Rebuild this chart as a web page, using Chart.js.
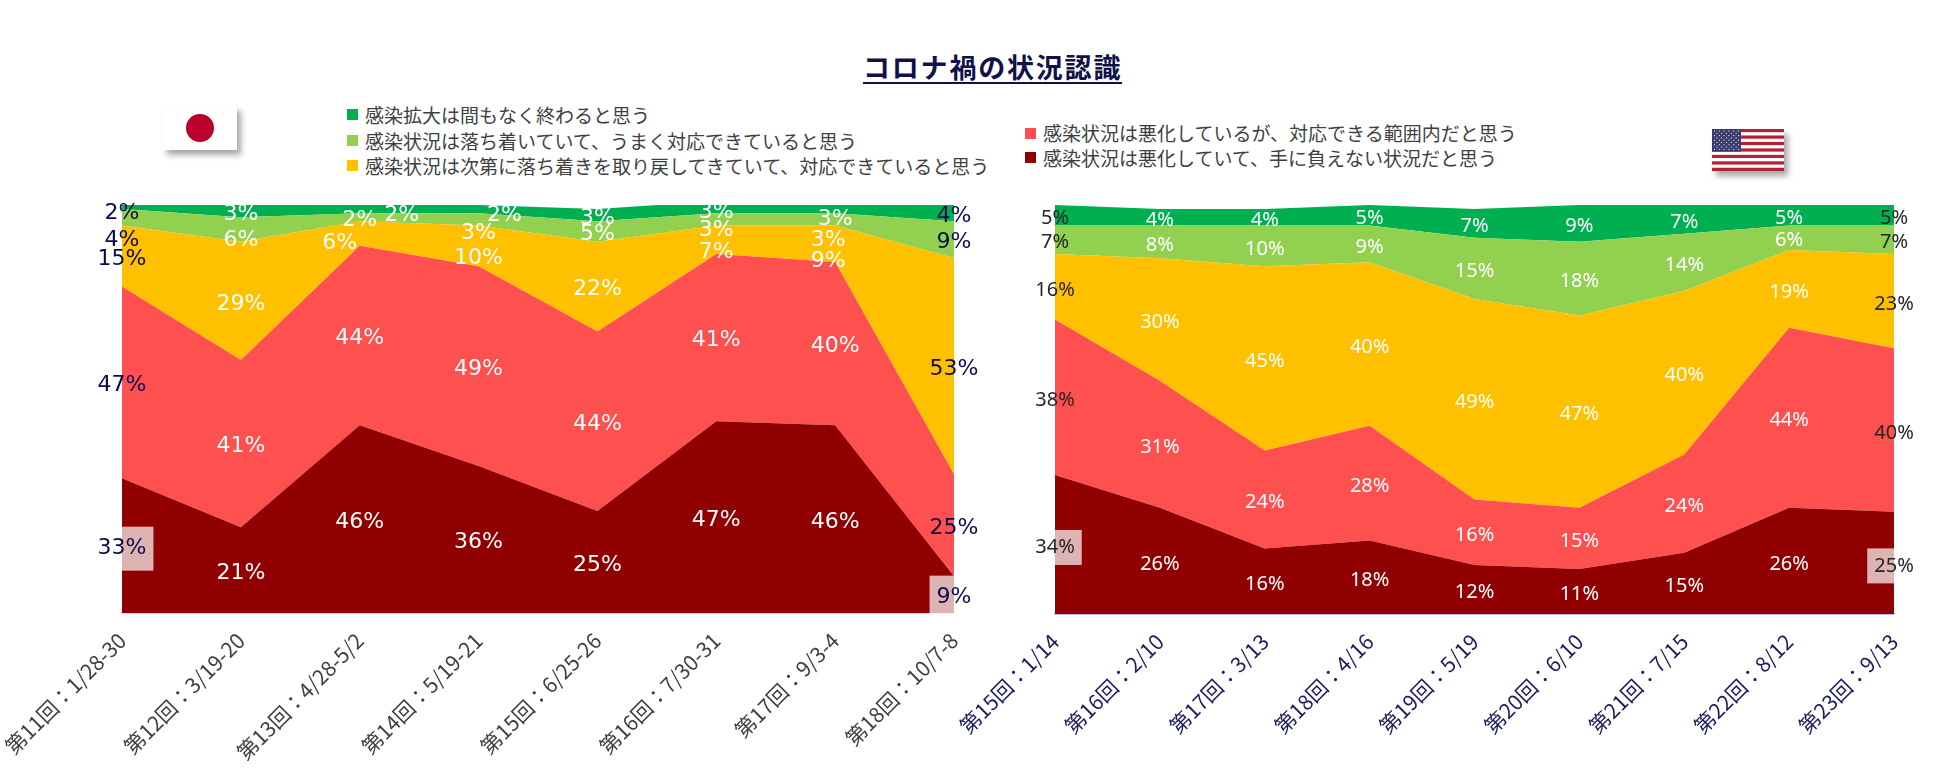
<!DOCTYPE html>
<html lang="ja">
<head>
<meta charset="utf-8">
<title>コロナ禍の状況認識</title>
<script src="https://cdn.jsdelivr.net/npm/chart.js@4.4.0/dist/chart.umd.min.js"></script>
<style>
  html, body { margin: 0; padding: 0; background: #fff; }
  body { width: 1938px; height: 784px; position: relative; overflow: hidden; font-family: "Noto Sans CJK JP", sans-serif; }
  canvas { position: absolute; }
  #title { position: absolute; left: 863px; top: 52px; height: 30px; line-height: 30px; font-size: 27px; font-weight: bold; color: #10104a; letter-spacing: 1.8px; border-bottom: 2px solid #10104a; white-space: nowrap; }
  .legend { position: absolute; font-size: 19px; color: #3f3f3f; white-space: nowrap; }
  .legend .item { display: flex; align-items: center; }
  .legend .swatch { display: inline-block; width: 11px; height: 11px; margin-right: 7px; }
  #legendJapan { left: 347px; top: 102px; line-height: 25.5px; }
  #legendUS { left: 1025px; top: 121px; line-height: 24.5px; }
  .flag { position: absolute; box-shadow: 4px 5px 6px rgba(0,0,0,0.35); background: #fff; }
  #flagJapan { left: 163px; top: 106px; width: 74px; height: 44px; }
  #flagJapan::after { content: ""; position: absolute; left: 23px; top: 8px; width: 28px; height: 28px; border-radius: 50%; background: #bc002d; }
  #flagUS { left: 1712px; top: 129px; position: absolute; }
</style>
</head>
<body>
<div id="title">コロナ禍の状況認識</div>
<div class="flag" id="flagJapan"></div>
<canvas class="flag" id="flagUS" width="72" height="42"></canvas>
<div class="legend" id="legendJapan"></div>
<div class="legend" id="legendUS"></div>
<canvas id="chartJapan" width="1010" height="590" style="left:-20px;top:190px"></canvas>
<canvas id="chartUS" width="1028" height="590" style="left:910px;top:190px"></canvas>
<script>
const japanRounds = ["第11回：1/28-30", "第12回：3/19-20", "第13回：4/28-5/2", "第14回：5/19-21",
  "第15回：6/25-26", "第16回：7/30-31", "第17回：9/3-4", "第18回：10/7-8"];
const usRounds = ["第15回：1/14", "第16回：2/10", "第17回：3/13", "第18回：4/16", "第19回：5/19",
  "第20回：6/10", "第21回：7/15", "第22回：8/12", "第23回：9/13"];

// bottom to top
const seriesNames = [
  "感染状況は悪化していて、手に負えない状況だと思う",
  "感染状況は悪化しているが、対応できる範囲内だと思う",
  "感染状況は次第に落ち着きを取り戻してきていて、対応できていると思う",
  "感染状況は落ち着いていて、うまく対応できていると思う",
  "感染拡大は間もなく終わると思う"
];
const seriesColors = ["#900000", "#ff5050", "#ffc000", "#92d050", "#00b050"];

const japanOutOfHand = [33, 21, 46, 36, 25, 47, 46, 9];
const japanManageable = [47, 41, 44, 49, 44, 41, 40, 25];
const japanRecovering = [15, 29, 6, 10, 22, 7, 9, 53];
const japanCalm = [4, 6, 2, 3, 5, 3, 3, 9];
const japanEnding = [2, 3, 2, 2, 3, 3, 3, 4];

const usOutOfHand = [34, 26, 16, 18, 12, 11, 15, 26, 25];
const usManageable = [38, 31, 24, 28, 16, 15, 24, 44, 40];
const usRecovering = [16, 30, 45, 40, 49, 47, 40, 19, 23];
const usCalm = [7, 8, 10, 9, 15, 18, 14, 6, 7];
const usEnding = [5, 4, 4, 5, 7, 9, 7, 5, 5];

// value labels in the middle of each band
const segmentLabels = {
  id: "segmentLabels",
  afterDatasetsDraw(chart, args, opts) {
    const { ctx, chartArea } = chart;
    const last = chart.data.labels.length - 1;
    const zero = chart.scales.y.getPixelForValue(0);
    ctx.save();
    ctx.font = opts.font;
    ctx.textAlign = "center";
    ctx.textBaseline = "middle";
    chart.data.datasets.forEach((ds, di) => {
      const points = chart.getDatasetMeta(di).data;
      const below = di > 0 ? chart.getDatasetMeta(di - 1).data : null;
      points.forEach((pt, i) => {
        const top = Math.max(pt.y, chartArea.top);
        const bottom = below ? Math.max(below[i].y, chartArea.top) : zero;
        const nudge = (opts.nudges && opts.nudges[di + "," + i]) || [0, 0];
        const x = pt.x + nudge[0];
        const y = (top + bottom) / 2 + opts.shift + nudge[1];
        const text = ds.data[i] + "%";
        const edge = i === 0 || i === last;
        if (edge && di === 0) {
          const w = ctx.measureText(text).width + opts.boxPadX * 2;
          ctx.fillStyle = "rgba(255,255,255,0.7)";
          ctx.fillRect(x - w / 2, y - opts.boxHeight / 2, w, opts.boxHeight);
        }
        ctx.fillStyle = edge ? opts.edgeColor : "#ffffff";
        ctx.fillText(text, x, y);
      });
    });
    ctx.restore();
  }
};

function buildDatasets(series) {
  return series.map((values, i) => ({
    label: seriesNames[i],
    data: values,
    backgroundColor: seriesColors[i],
    borderWidth: 0,
    pointRadius: 0,
    tension: 0,
    fill: i === 0 ? "origin" : "-1"
  }));
}

function createAreaChart(canvas, labels, series, look) {
  return new Chart(canvas, {
    type: "line",
    data: { labels: labels, datasets: buildDatasets(series) },
    options: {
      responsive: false,
      animation: false,
      layout: { padding: look.padding },
      plugins: {
        legend: { display: false },
        tooltip: { enabled: false },
        segmentLabels: look.labels
      },
      scales: {
        x: {
          offset: false,
          grid: { display: false, drawTicks: false },
          border: { display: true, color: look.axisColor, width: 2 },
          ticks: {
            autoSkip: false,
            minRotation: 45,
            maxRotation: 45,
            padding: 15,
            color: look.tickColor,
            font: { family: '"Noto Sans CJK JP"', size: 21 }
          },
          afterFit(scale) { scale.height = 160; }
        },
        y: { display: false, stacked: true, min: 0, max: 100 }
      }
    },
    plugins: [segmentLabels]
  });
}

function buildLegend(el, chart, order) {
  order.forEach((i) => {
    const ds = chart.data.datasets[i];
    const row = document.createElement("div");
    row.className = "item";
    const swatch = document.createElement("span");
    swatch.className = "swatch";
    swatch.style.background = ds.backgroundColor;
    row.append(swatch, document.createTextNode(ds.label));
    el.appendChild(row);
  });
}

const japanChart = createAreaChart(document.getElementById("chartJapan"), japanRounds,
  [japanOutOfHand, japanManageable, japanRecovering, japanCalm, japanEnding], {
    padding: { top: 15, left: 142, right: 36, bottom: 7 },
    axisColor: "#d9d9d9",
    tickColor: "#404040",
    labels: {
      font: '22px "DejaVu Sans"',
      edgeColor: "#0c0c4c",
      shift: 3,
      boxPadX: 7,
      boxHeight: 44,
      nudges: {
        "4,0": [0, 3], "3,0": [0, 20], "3,1": [0, 8],
        "4,2": [42, 3], "2,2": [-20, 7],
        "4,3": [26, 3], "3,3": [0, 11], "2,3": [0, 9],
        "3,5": [0, 8], "2,5": [0, 10],
        "4,6": [0, 7], "3,6": [-7, 18], "2,6": [-7, 15]
      }
    }
  });

const usChart = createAreaChart(document.getElementById("chartUS"), usRounds,
  [usOutOfHand, usManageable, usRecovering, usCalm, usEnding], {
    padding: { top: 15, left: 145, right: 44, bottom: 6 },
    axisColor: "#bcbcf4",
    tickColor: "#1c1c5c",
    labels: {
      font: '20px "Noto Sans"',
      edgeColor: "#262626",
      shift: 3,
      boxPadX: 7,
      boxHeight: 35
    }
  });

buildLegend(document.getElementById("legendJapan"), japanChart, [4, 3, 2]);
buildLegend(document.getElementById("legendUS"), usChart, [1, 0]);

// US flag
const fctx = document.getElementById("flagUS").getContext("2d");
const stripe = 42 / 13;
for (let s = 0; s < 13; s++) {
  fctx.fillStyle = s % 2 === 0 ? "#b22234" : "#ffffff";
  fctx.fillRect(0, s * stripe, 72, stripe + 0.5);
}
fctx.fillStyle = "#3c3b6e";
fctx.fillRect(0, 0, 29, stripe * 7);
fctx.fillStyle = "#ffffff";
for (let r = 0; r < 9; r++) {
  const cols = r % 2 === 0 ? 6 : 5;
  for (let c = 0; c < cols; c++) {
    fctx.fillRect(2 + c * 4.8 + (r % 2) * 2.4, 1.5 + r * 2.3, 1, 1);
  }
}
</script>
</body>
</html>
